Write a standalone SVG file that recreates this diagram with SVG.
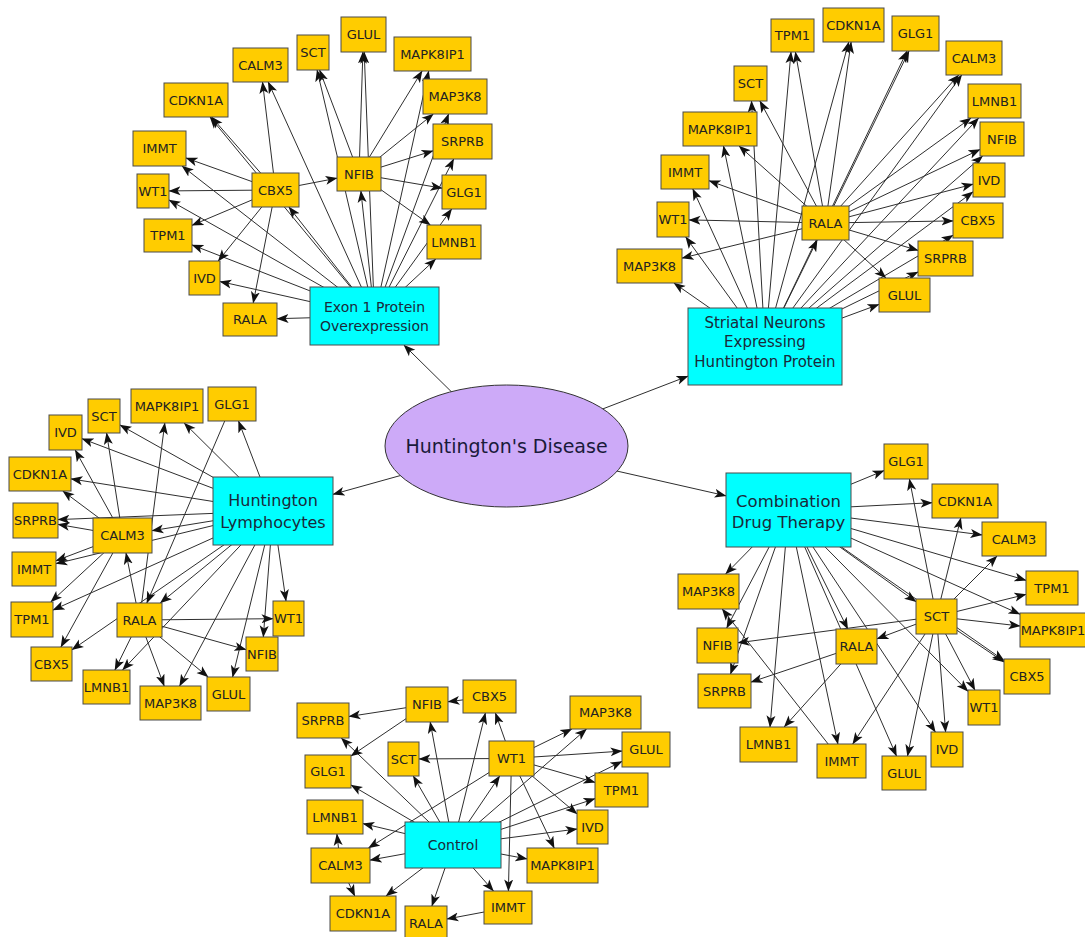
<svg xmlns="http://www.w3.org/2000/svg" width="1085" height="937" viewBox="0 0 1085 937">
<defs>
<marker id="a" viewBox="0 0 12 10" refX="11.5" refY="5" markerWidth="12" markerHeight="10" markerUnits="userSpaceOnUse" orient="auto"><path d="M0,0.5 L12,5 L0,9.5 L3,5 z" fill="#111"/></marker>
<style>
.e line{stroke:#2e2e2e;stroke-width:1;marker-end:url(#a)}
.g rect{fill:#ffcc00;stroke:#4a4a4a;stroke-width:1}
.c rect{fill:#00ffff;stroke:#4a4a4a;stroke-width:1}
.g text{font-family:"DejaVu Sans",sans-serif;font-size:13px;fill:#222;text-anchor:middle}
.c text{font-family:"DejaVu Sans",sans-serif;fill:#1a2a3a;text-anchor:middle}
</style>
</defs>
<rect width="1085" height="937" fill="#fff"/>
<g id="connectors" class="e">
<line x1="506.5" y1="446" x2="403.9" y2="345"/>
<line x1="506.5" y1="446" x2="688" y2="376.1"/>
<line x1="506.5" y1="446" x2="333" y2="494.3"/>
<line x1="506.5" y1="446" x2="726" y2="495.8"/>
<line x1="374.5" y1="316" x2="277" y2="318.7"/>
<line x1="374.5" y1="316" x2="220" y2="281.5"/>
<line x1="374.5" y1="316" x2="192" y2="244.9"/>
<line x1="374.5" y1="316" x2="169" y2="200"/>
<line x1="374.5" y1="316" x2="288.9" y2="207"/>
<line x1="374.5" y1="316" x2="360.9" y2="191"/>
<line x1="374.5" y1="316" x2="451.7" y2="209"/>
<line x1="374.5" y1="316" x2="435.7" y2="259"/>
<line x1="374.5" y1="316" x2="182" y2="166"/>
<line x1="374.5" y1="316" x2="210" y2="117"/>
<line x1="374.5" y1="316" x2="268.2" y2="82"/>
<line x1="374.5" y1="316" x2="317.1" y2="70"/>
<line x1="374.5" y1="316" x2="364.2" y2="52"/>
<line x1="374.5" y1="316" x2="428.7" y2="71"/>
<line x1="374.5" y1="316" x2="448.6" y2="114"/>
<line x1="374.5" y1="316" x2="453.7" y2="159"/>
<line x1="275.5" y1="190" x2="337" y2="178.2"/>
<line x1="275.5" y1="190" x2="169" y2="190.9"/>
<line x1="275.5" y1="190" x2="192" y2="225.3"/>
<line x1="275.5" y1="190" x2="218.2" y2="261"/>
<line x1="275.5" y1="190" x2="253.2" y2="303"/>
<line x1="275.5" y1="190" x2="186" y2="158"/>
<line x1="275.5" y1="190" x2="211.5" y2="117"/>
<line x1="275.5" y1="190" x2="262.5" y2="82"/>
<line x1="359" y1="174" x2="319.6" y2="70"/>
<line x1="359" y1="174" x2="362.9" y2="52"/>
<line x1="359" y1="174" x2="422.1" y2="71"/>
<line x1="359" y1="174" x2="433.3" y2="114"/>
<line x1="359" y1="174" x2="433" y2="150.8"/>
<line x1="359" y1="174" x2="442" y2="188.2"/>
<line x1="359" y1="174" x2="430.3" y2="225"/>
<line x1="765" y1="346.5" x2="673.9" y2="283"/>
<line x1="765" y1="346.5" x2="685.7" y2="237"/>
<line x1="765" y1="346.5" x2="692.8" y2="189"/>
<line x1="765" y1="346.5" x2="723.5" y2="146"/>
<line x1="765" y1="346.5" x2="751.5" y2="101"/>
<line x1="765" y1="346.5" x2="791" y2="52"/>
<line x1="765" y1="346.5" x2="848.8" y2="42"/>
<line x1="765" y1="346.5" x2="907.1" y2="51"/>
<line x1="765" y1="346.5" x2="961.7" y2="75"/>
<line x1="765" y1="346.5" x2="978.6" y2="118"/>
<line x1="765" y1="346.5" x2="982.6" y2="156"/>
<line x1="765" y1="346.5" x2="973" y2="191.9"/>
<line x1="765" y1="346.5" x2="953" y2="235.3"/>
<line x1="765" y1="346.5" x2="918" y2="271.9"/>
<line x1="765" y1="346.5" x2="879" y2="304.4"/>
<line x1="765" y1="346.5" x2="817.2" y2="240"/>
<line x1="825.5" y1="223" x2="689" y2="219.9"/>
<line x1="825.5" y1="223" x2="682" y2="258.1"/>
<line x1="825.5" y1="223" x2="709" y2="180.7"/>
<line x1="825.5" y1="223" x2="739.1" y2="146"/>
<line x1="825.5" y1="223" x2="759.9" y2="101"/>
<line x1="825.5" y1="223" x2="795.4" y2="52"/>
<line x1="825.5" y1="223" x2="851.1" y2="42"/>
<line x1="825.5" y1="223" x2="909" y2="51"/>
<line x1="825.5" y1="223" x2="958.7" y2="75"/>
<line x1="825.5" y1="223" x2="971" y2="118"/>
<line x1="825.5" y1="223" x2="980" y2="149.5"/>
<line x1="825.5" y1="223" x2="973" y2="184.2"/>
<line x1="825.5" y1="223" x2="953" y2="220.9"/>
<line x1="825.5" y1="223" x2="918" y2="250.4"/>
<line x1="825.5" y1="223" x2="885.9" y2="278"/>
<line x1="273" y1="511" x2="238.5" y2="421"/>
<line x1="273" y1="511" x2="184.2" y2="423"/>
<line x1="273" y1="511" x2="120" y2="425"/>
<line x1="273" y1="511" x2="82" y2="438.7"/>
<line x1="273" y1="511" x2="71" y2="478.9"/>
<line x1="273" y1="511" x2="58" y2="519.6"/>
<line x1="273" y1="511" x2="152" y2="530.7"/>
<line x1="273" y1="511" x2="56" y2="563.7"/>
<line x1="273" y1="511" x2="53" y2="610"/>
<line x1="273" y1="511" x2="72" y2="649.8"/>
<line x1="273" y1="511" x2="160.3" y2="603"/>
<line x1="273" y1="511" x2="122.6" y2="670"/>
<line x1="273" y1="511" x2="179.6" y2="686"/>
<line x1="273" y1="511" x2="232.6" y2="677"/>
<line x1="273" y1="511" x2="263.3" y2="637"/>
<line x1="273" y1="511" x2="286" y2="601"/>
<line x1="122.5" y1="535.5" x2="75.2" y2="450"/>
<line x1="122.5" y1="535.5" x2="106.6" y2="433"/>
<line x1="122.5" y1="535.5" x2="62.8" y2="491"/>
<line x1="122.5" y1="535.5" x2="58" y2="524.4"/>
<line x1="122.5" y1="535.5" x2="56" y2="560.7"/>
<line x1="122.5" y1="535.5" x2="50.8" y2="602"/>
<line x1="122.5" y1="535.5" x2="60.9" y2="647"/>
<line x1="139.5" y1="620" x2="126" y2="553"/>
<line x1="139.5" y1="620" x2="164.8" y2="423"/>
<line x1="139.5" y1="620" x2="273" y2="618.7"/>
<line x1="139.5" y1="620" x2="246" y2="649.6"/>
<line x1="139.5" y1="620" x2="208.1" y2="677"/>
<line x1="139.5" y1="620" x2="164.2" y2="686"/>
<line x1="139.5" y1="620" x2="114.9" y2="670"/>
<line x1="232" y1="404" x2="146.8" y2="603"/>
<line x1="788.5" y1="510" x2="884" y2="470.6"/>
<line x1="788.5" y1="510" x2="932" y2="502.7"/>
<line x1="788.5" y1="510" x2="982" y2="534.9"/>
<line x1="788.5" y1="510" x2="1026" y2="580.3"/>
<line x1="788.5" y1="510" x2="1020" y2="614.2"/>
<line x1="788.5" y1="510" x2="1004" y2="660.5"/>
<line x1="788.5" y1="510" x2="968" y2="691.3"/>
<line x1="788.5" y1="510" x2="935.4" y2="732"/>
<line x1="788.5" y1="510" x2="896.5" y2="756"/>
<line x1="788.5" y1="510" x2="837.9" y2="744"/>
<line x1="788.5" y1="510" x2="770" y2="727"/>
<line x1="788.5" y1="510" x2="730.5" y2="674"/>
<line x1="788.5" y1="510" x2="726.7" y2="628"/>
<line x1="788.5" y1="510" x2="725.7" y2="574"/>
<line x1="788.5" y1="510" x2="847.8" y2="629"/>
<line x1="788.5" y1="510" x2="916" y2="601.7"/>
<line x1="936.5" y1="616.5" x2="909.4" y2="479"/>
<line x1="936.5" y1="616.5" x2="960.8" y2="518"/>
<line x1="936.5" y1="616.5" x2="997" y2="556"/>
<line x1="936.5" y1="616.5" x2="1026" y2="594.4"/>
<line x1="936.5" y1="616.5" x2="1020" y2="626"/>
<line x1="936.5" y1="616.5" x2="1004" y2="662"/>
<line x1="936.5" y1="616.5" x2="974.9" y2="690"/>
<line x1="936.5" y1="616.5" x2="945.6" y2="732"/>
<line x1="936.5" y1="616.5" x2="907.5" y2="756"/>
<line x1="936.5" y1="616.5" x2="852.7" y2="744"/>
<line x1="936.5" y1="616.5" x2="877" y2="638.8"/>
<line x1="936.5" y1="616.5" x2="738" y2="642.8"/>
<line x1="856.5" y1="646.5" x2="751" y2="682.1"/>
<line x1="856.5" y1="646.5" x2="784.2" y2="727"/>
<line x1="841.5" y1="761" x2="722.2" y2="609"/>
<line x1="453" y1="845" x2="341.3" y2="738"/>
<line x1="453" y1="845" x2="351" y2="785"/>
<line x1="453" y1="845" x2="363" y2="823.6"/>
<line x1="453" y1="845" x2="370" y2="860.1"/>
<line x1="453" y1="845" x2="386" y2="896"/>
<line x1="453" y1="845" x2="431.9" y2="906"/>
<line x1="453" y1="845" x2="493.5" y2="891"/>
<line x1="453" y1="845" x2="527" y2="858.9"/>
<line x1="453" y1="845" x2="577" y2="829"/>
<line x1="453" y1="845" x2="595" y2="798.7"/>
<line x1="453" y1="845" x2="622" y2="761.4"/>
<line x1="453" y1="845" x2="586.5" y2="729"/>
<line x1="453" y1="845" x2="499.7" y2="776"/>
<line x1="453" y1="845" x2="485.4" y2="713"/>
<line x1="453" y1="845" x2="430.2" y2="722"/>
<line x1="453" y1="845" x2="413.3" y2="776"/>
<line x1="511.5" y1="758.5" x2="495.4" y2="713"/>
<line x1="511.5" y1="758.5" x2="419" y2="758.9"/>
<line x1="511.5" y1="758.5" x2="571.8" y2="729"/>
<line x1="511.5" y1="758.5" x2="622" y2="751.1"/>
<line x1="511.5" y1="758.5" x2="595" y2="782.4"/>
<line x1="511.5" y1="758.5" x2="577" y2="813.9"/>
<line x1="511.5" y1="758.5" x2="554.2" y2="848"/>
<line x1="511.5" y1="758.5" x2="508.4" y2="891"/>
<line x1="511.5" y1="758.5" x2="368.5" y2="848"/>
<line x1="489.5" y1="696.5" x2="448" y2="701.8"/>
<line x1="427" y1="704.5" x2="349" y2="716.5"/>
<line x1="427" y1="704.5" x2="351" y2="755.9"/>
<line x1="340.5" y1="865.5" x2="336.9" y2="834"/>
<line x1="340.5" y1="865.5" x2="354.8" y2="896"/>
<line x1="508" y1="907.5" x2="447" y2="919"/>
</g>
<g id="hd"><ellipse cx="506.5" cy="446" rx="121.5" ry="61" fill="#cdaaf8" stroke="#333" stroke-width="1"/><text x="506.5" y="453" font-family="DejaVu Sans, sans-serif" font-size="19" fill="#1a1a3a" text-anchor="middle">Huntington's Disease</text></g>
<g id="tl-exon" class="c"><rect x="310" y="287" width="129" height="58"/><text font-size="14"><tspan x="374.5" y="312">Exon 1 Protein</tspan><tspan x="374.5" y="331">Overexpression</tspan></text></g>
<g id="tl-rala" class="g"><rect x="223" y="303" width="54" height="33"/><text x="250" y="324">RALA</text></g>
<g id="tl-ivd" class="g"><rect x="189" y="261" width="31" height="34"/><text x="204.5" y="282.5">IVD</text></g>
<g id="tl-tpm1" class="g"><rect x="144" y="219" width="48" height="33"/><text x="168" y="240">TPM1</text></g>
<g id="tl-wt1" class="g"><rect x="137" y="174" width="32" height="34"/><text x="153" y="195.5">WT1</text></g>
<g id="tl-cbx5" class="g"><rect x="252" y="173" width="47" height="34"/><text x="275.5" y="194.5">CBX5</text></g>
<g id="tl-nfib" class="g"><rect x="337" y="157" width="44" height="34"/><text x="359" y="178.5">NFIB</text></g>
<g id="tl-glg1" class="g"><rect x="442" y="175" width="44" height="34"/><text x="464" y="196.5">GLG1</text></g>
<g id="tl-lmnb1" class="g"><rect x="427" y="225" width="54" height="34"/><text x="454" y="246.5">LMNB1</text></g>
<g id="tl-immt" class="g"><rect x="133" y="131" width="53" height="35"/><text x="159.5" y="153">IMMT</text></g>
<g id="tl-cdkn1a" class="g"><rect x="164" y="83" width="64" height="34"/><text x="196" y="104.5">CDKN1A</text></g>
<g id="tl-calm3" class="g"><rect x="233" y="48" width="55" height="34"/><text x="260.5" y="69.5">CALM3</text></g>
<g id="tl-sct" class="g"><rect x="297" y="35" width="32" height="35"/><text x="313" y="57">SCT</text></g>
<g id="tl-glul" class="g"><rect x="341" y="17" width="45" height="35"/><text x="363.5" y="39">GLUL</text></g>
<g id="tl-mapk8ip1" class="g"><rect x="394" y="37" width="77" height="34"/><text x="432.5" y="58.5">MAPK8IP1</text></g>
<g id="tl-map3k8" class="g"><rect x="423" y="79" width="64" height="35"/><text x="455" y="101">MAP3K8</text></g>
<g id="tl-srprb" class="g"><rect x="433" y="124" width="59" height="35"/><text x="462.5" y="146">SRPRB</text></g>
<g id="tr-striatal" class="c"><rect x="688" y="308" width="154" height="77"/><text font-size="15"><tspan x="765" y="328">Striatal Neurons</tspan><tspan x="765" y="347">Expressing</tspan><tspan x="765" y="367">Huntington Protein</tspan></text></g>
<g id="tr-map3k8" class="g"><rect x="617" y="249" width="65" height="34"/><text x="649.5" y="270.5">MAP3K8</text></g>
<g id="tr-wt1" class="g"><rect x="657" y="202" width="32" height="35"/><text x="673" y="224">WT1</text></g>
<g id="tr-immt" class="g"><rect x="661" y="155" width="48" height="34"/><text x="685" y="176.5">IMMT</text></g>
<g id="tr-mapk8ip1" class="g"><rect x="683" y="112" width="74" height="34"/><text x="720" y="133.5">MAPK8IP1</text></g>
<g id="tr-sct" class="g"><rect x="734" y="66" width="33" height="35"/><text x="750.5" y="88">SCT</text></g>
<g id="tr-tpm1" class="g"><rect x="771" y="19" width="43" height="33"/><text x="792.5" y="40">TPM1</text></g>
<g id="tr-cdkn1a" class="g"><rect x="823" y="8" width="61" height="34"/><text x="853.5" y="29.5">CDKN1A</text></g>
<g id="tr-glg1" class="g"><rect x="892" y="16" width="47" height="35"/><text x="915.5" y="38">GLG1</text></g>
<g id="tr-calm3" class="g"><rect x="946" y="41" width="56" height="34"/><text x="974" y="62.5">CALM3</text></g>
<g id="tr-lmnb1" class="g"><rect x="968" y="84" width="53" height="34"/><text x="994.5" y="105.5">LMNB1</text></g>
<g id="tr-nfib" class="g"><rect x="980" y="122" width="44" height="34"/><text x="1002" y="143.5">NFIB</text></g>
<g id="tr-ivd" class="g"><rect x="973" y="163" width="32" height="34"/><text x="989" y="184.5">IVD</text></g>
<g id="tr-cbx5" class="g"><rect x="953" y="203" width="50" height="35"/><text x="978" y="225">CBX5</text></g>
<g id="tr-srprb" class="g"><rect x="918" y="241" width="55" height="35"/><text x="945.5" y="263">SRPRB</text></g>
<g id="tr-glul" class="g"><rect x="879" y="278" width="51" height="34"/><text x="904.5" y="299.5">GLUL</text></g>
<g id="tr-rala" class="g"><rect x="802" y="206" width="47" height="34"/><text x="825.5" y="227.5">RALA</text></g>
<g id="l-lymph" class="c"><rect x="213" y="477" width="120" height="68"/><text font-size="16"><tspan x="273" y="506">Huntington</tspan><tspan x="273" y="528">Lymphocytes</tspan></text></g>
<g id="l-glg1" class="g"><rect x="208" y="387" width="48" height="34"/><text x="232" y="408.5">GLG1</text></g>
<g id="l-mapk8ip1" class="g"><rect x="131" y="389" width="72" height="34"/><text x="167" y="410.5">MAPK8IP1</text></g>
<g id="l-sct" class="g"><rect x="88" y="399" width="32" height="34"/><text x="104" y="420.5">SCT</text></g>
<g id="l-ivd" class="g"><rect x="49" y="415" width="33" height="35"/><text x="65.5" y="437">IVD</text></g>
<g id="l-cdkn1a" class="g"><rect x="9" y="457" width="62" height="34"/><text x="40" y="478.5">CDKN1A</text></g>
<g id="l-srprb" class="g"><rect x="13" y="503" width="45" height="35"/><text x="35.5" y="525">SRPRB</text></g>
<g id="l-calm3" class="g"><rect x="93" y="518" width="59" height="35"/><text x="122.5" y="540">CALM3</text></g>
<g id="l-immt" class="g"><rect x="12" y="552" width="44" height="34"/><text x="34" y="573.5">IMMT</text></g>
<g id="l-tpm1" class="g"><rect x="11" y="602" width="42" height="35"/><text x="32" y="624">TPM1</text></g>
<g id="l-cbx5" class="g"><rect x="31" y="647" width="41" height="34"/><text x="51.5" y="668.5">CBX5</text></g>
<g id="l-rala" class="g"><rect x="117" y="603" width="45" height="34"/><text x="139.5" y="624.5">RALA</text></g>
<g id="l-lmnb1" class="g"><rect x="83" y="670" width="47" height="34"/><text x="106.5" y="691.5">LMNB1</text></g>
<g id="l-map3k8" class="g"><rect x="140" y="686" width="61" height="34"/><text x="170.5" y="707.5">MAP3K8</text></g>
<g id="l-glul" class="g"><rect x="207" y="677" width="43" height="34"/><text x="228.5" y="698.5">GLUL</text></g>
<g id="l-nfib" class="g"><rect x="246" y="637" width="32" height="34"/><text x="262" y="658.5">NFIB</text></g>
<g id="l-wt1" class="g"><rect x="273" y="601" width="31" height="35"/><text x="288.5" y="623">WT1</text></g>
<g id="r-combo" class="c"><rect x="726" y="473" width="125" height="74"/><text font-size="16.5"><tspan x="788.5" y="507">Combination</tspan><tspan x="788.5" y="528">Drug Therapy</tspan></text></g>
<g id="r-glg1" class="g"><rect x="884" y="444" width="44" height="35"/><text x="906" y="466">GLG1</text></g>
<g id="r-cdkn1a" class="g"><rect x="932" y="484" width="66" height="34"/><text x="965" y="505.5">CDKN1A</text></g>
<g id="r-calm3" class="g"><rect x="982" y="522" width="64" height="34"/><text x="1014" y="543.5">CALM3</text></g>
<g id="r-tpm1" class="g"><rect x="1026" y="571" width="52" height="34"/><text x="1052" y="592.5">TPM1</text></g>
<g id="r-mapk8ip1" class="g"><rect x="1020" y="613" width="70" height="34"/><text x="1053" y="634.5">MAPK8IP1</text></g>
<g id="r-cbx5" class="g"><rect x="1004" y="659" width="46" height="35"/><text x="1027" y="681">CBX5</text></g>
<g id="r-wt1" class="g"><rect x="968" y="690" width="32" height="35"/><text x="984" y="712">WT1</text></g>
<g id="r-ivd" class="g"><rect x="931" y="732" width="32" height="35"/><text x="947" y="754">IVD</text></g>
<g id="r-glul" class="g"><rect x="882" y="756" width="44" height="34"/><text x="904" y="777.5">GLUL</text></g>
<g id="r-immt" class="g"><rect x="817" y="744" width="49" height="34"/><text x="841.5" y="765.5">IMMT</text></g>
<g id="r-lmnb1" class="g"><rect x="740" y="727" width="57" height="35"/><text x="768.5" y="749">LMNB1</text></g>
<g id="r-srprb" class="g"><rect x="698" y="674" width="53" height="34"/><text x="724.5" y="695.5">SRPRB</text></g>
<g id="r-nfib" class="g"><rect x="697" y="628" width="41" height="35"/><text x="717.5" y="650">NFIB</text></g>
<g id="r-map3k8" class="g"><rect x="678" y="574" width="61" height="35"/><text x="708.5" y="596">MAP3K8</text></g>
<g id="r-rala" class="g"><rect x="836" y="629" width="41" height="35"/><text x="856.5" y="651">RALA</text></g>
<g id="r-sct" class="g"><rect x="916" y="599" width="41" height="35"/><text x="936.5" y="621">SCT</text></g>
<g id="b-control" class="c"><rect x="405" y="822" width="96" height="46"/><text x="453" y="850" font-size="14">Control</text></g>
<g id="b-lmnb1" class="g"><rect x="307" y="800" width="56" height="34"/><text x="335" y="821.5">LMNB1</text></g>
<g id="b-calm3" class="g"><rect x="311" y="848" width="59" height="35"/><text x="340.5" y="870">CALM3</text></g>
<g id="b-cdkn1a" class="g"><rect x="330" y="896" width="66" height="35"/><text x="363" y="918">CDKN1A</text></g>
<g id="b-rala" class="g"><rect x="405" y="906" width="42" height="34"/><text x="426" y="927.5">RALA</text></g>
<g id="b-immt" class="g"><rect x="484" y="891" width="48" height="33"/><text x="508" y="912">IMMT</text></g>
<g id="b-mapk8ip1" class="g"><rect x="527" y="848" width="71" height="35"/><text x="562.5" y="870">MAPK8IP1</text></g>
<g id="b-ivd" class="g"><rect x="577" y="810" width="31" height="34"/><text x="592.5" y="831.5">IVD</text></g>
<g id="b-tpm1" class="g"><rect x="595" y="773" width="53" height="34"/><text x="621.5" y="794.5">TPM1</text></g>
<g id="b-glul" class="g"><rect x="622" y="732" width="48" height="35"/><text x="646" y="754">GLUL</text></g>
<g id="b-map3k8" class="g"><rect x="570" y="696" width="71" height="33"/><text x="605.5" y="717">MAP3K8</text></g>
<g id="b-wt1" class="g"><rect x="489" y="741" width="45" height="35"/><text x="511.5" y="763">WT1</text></g>
<g id="b-cbx5" class="g"><rect x="463" y="680" width="53" height="33"/><text x="489.5" y="701">CBX5</text></g>
<g id="b-nfib" class="g"><rect x="406" y="687" width="42" height="35"/><text x="427" y="709">NFIB</text></g>
<g id="b-srprb" class="g"><rect x="297" y="703" width="52" height="35"/><text x="323" y="725">SRPRB</text></g>
<g id="b-sct" class="g"><rect x="388" y="742" width="31" height="34"/><text x="403.5" y="763.5">SCT</text></g>
<g id="b-glg1" class="g"><rect x="305" y="755" width="46" height="33"/><text x="328" y="776">GLG1</text></g>
</svg>
